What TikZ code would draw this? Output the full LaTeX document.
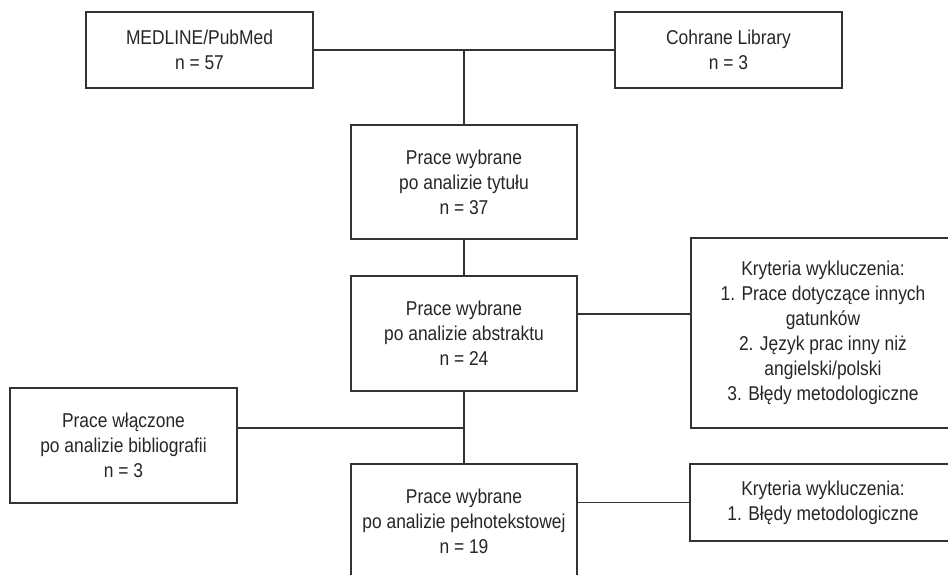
\documentclass[tikz,border=0pt]{standalone}
\usepackage{fontspec}
\setmainfont{Liberation Sans}[FakeStretch=0.87]
\begin{document}
\begin{tikzpicture}[x=1pt,y=-1pt,
  box/.style={draw=black!80, line width=1.1pt, rectangle, align=center, inner sep=0pt,
    text=black!85, font=\fontsize{20}{25}\selectfont},
  link/.style={draw=black!80, line width=1.1pt}]
\useasboundingbox (0,0) rectangle (948,574);
\clip (0,0) rectangle (948,574);
\fill[white] (0,0) rectangle (948,574);

\node[box, minimum width=227pt, minimum height=76pt] (med) at (199.5,50) {MEDLINE/PubMed\\n = 57};
\node[box, minimum width=227pt, minimum height=76pt] (coh) at (728.5,50) {Cohrane Library\\n = 3};
\node[box, minimum width=226pt, minimum height=114pt] (tyt) at (464,182) {Prace wybrane\\po analizie tytułu\\n = 37};
\node[box, minimum width=226pt, minimum height=115pt] (abs) at (464,333.5) {Prace wybrane\\po analizie abstraktu\\n = 24};
\node[box, minimum width=264pt, minimum height=190pt] (kr1) at (823,333) {Kryteria wykluczenia:\\1. Prace dotyczące innych\\gatunków\\2. Język prac inny niż\\angielski/polski\\3. Błędy metodologiczne};
\node[box, minimum width=227pt, minimum height=115pt] (wl) at (123.5,445.5) {Prace włączone\\po analizie bibliografii\\n = 3};
\node[box, minimum width=226pt, minimum height=115pt] (pel) at (464,521.5) {Prace wybrane\\po analizie pełnotekstowej\\n = 19};
\node[box, minimum width=266pt, minimum height=77pt] (kr2) at (823,502.5) {Kryteria wykluczenia:\\1. Błędy metodologiczne};

\coordinate (y1) at (0,314);
\coordinate (y2) at (0,428);
\draw[link] (med.east) -- (coh.west);
\draw[link] (tyt.north |- med.east) -- (tyt.north);
\draw[link] (tyt.south) -- (abs.north);
\draw[link] (abs.south) -- (pel.north);
\draw[link] (abs.east |- y1) -- (kr1.west |- y1);
\draw[link] (wl.east |- y2) -- (abs.south |- y2);
\draw[link] (pel.east |- kr2.west) -- (kr2.west);
\end{tikzpicture}
\end{document}
